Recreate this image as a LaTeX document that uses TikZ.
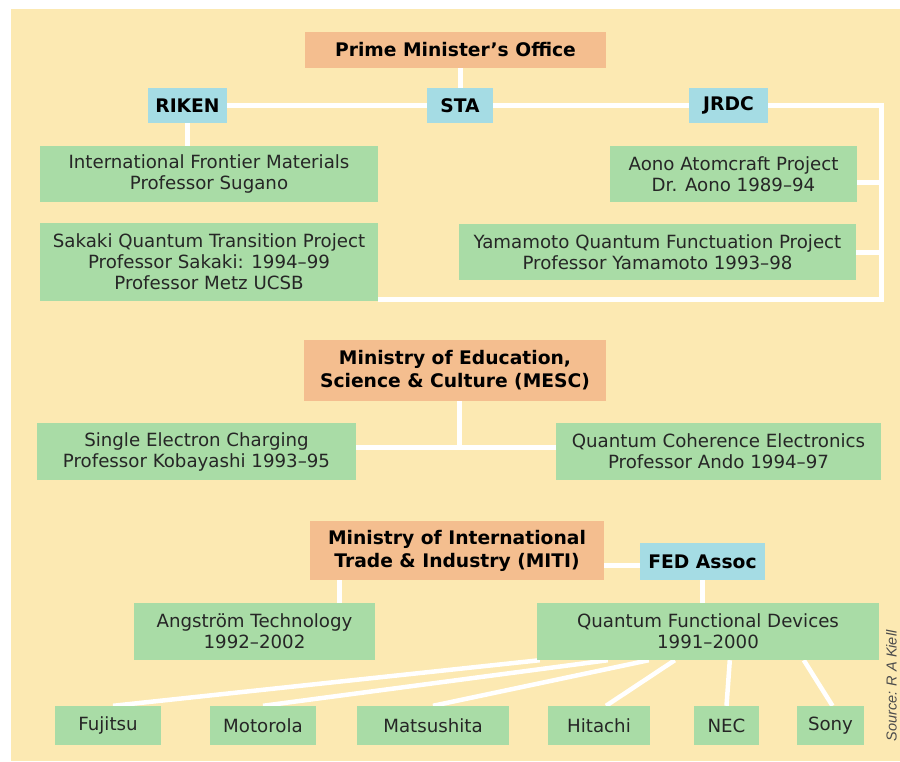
\documentclass[tikz,border=0pt]{standalone}
\usepackage{fontspec}
\setmainfont{DejaVu Sans}
\newfontfamily\srcfont{Liberation Sans}
\usetikzlibrary{backgrounds}
\definecolor{bgbeige}{HTML}{FCE9B2}
\definecolor{boxgreen}{HTML}{A9DCA6}
\definecolor{boxorange}{HTML}{F4BE8F}
\definecolor{boxblue}{HTML}{A5DCE4}
\begin{document}
\begin{tikzpicture}[x=1pt,y=-1pt,
  box/.style={inner sep=0pt, align=center, text=black!85, font=\fontsize{18.2}{21}\selectfont},
  greenbox/.style={box, fill=boxgreen},
  hdbox/.style={box, text=black, font=\bfseries\fontsize{18.7}{23}\selectfont},
  orangebox/.style={hdbox, fill=boxorange},
  bluebox/.style={hdbox, fill=boxblue},
  link/.style={draw=white, line width=5pt, line join=miter},
  fan/.style={draw=white, line width=4.5pt}
]
\useasboundingbox (0,0) rectangle (900,761);

% --- top: Prime Minister's Office ---
\node[orangebox, minimum width=301pt, minimum height=36pt] (pmo) at (455.5,50) {Prime Minister's Office};
\node[bluebox, minimum width=79pt, minimum height=35pt] (riken) at (187.5,105.5) {RIKEN};
\node[bluebox, minimum width=66pt, minimum height=35pt] (sta) at (460,105.5) {STA};
\node[bluebox, minimum width=79pt, minimum height=35pt] (jrdc) at (728.5,105.5) {JRDC};
\node[greenbox, minimum width=338pt, minimum height=56pt] (ifm) at (209,174) {International Frontier Materials\\Professor Sugano};
\node[greenbox, minimum width=338pt, minimum height=78pt] (sakaki) at (209,262) {Sakaki Quantum Transition Project\\Professor Sakaki: 1994--99\\Professor Metz UCSB};
\node[greenbox, minimum width=247pt, minimum height=56pt] (aono) at (733.5,174) {Aono Atomcraft Project\\Dr. Aono 1989--94};
\node[greenbox, minimum width=397pt, minimum height=56pt] (yama) at (657.5,252) {Yamamoto Quantum Functuation Project\\Professor Yamamoto 1993--98};

% --- middle: MESC ---
\node[orangebox, minimum width=302pt, minimum height=61pt] (mesc) at (455,370.5) {Ministry of Education,\\Science \& Culture (MESC)};
\node[greenbox, minimum width=319pt, minimum height=57pt] (sec) at (196.5,451.5) {Single Electron Charging\\Professor Kobayashi 1993--95};
\node[greenbox, minimum width=325pt, minimum height=57pt] (qce) at (718.5,451.5) {Quantum Coherence Electronics\\Professor Ando 1994--97};

% --- bottom: MITI ---
\node[orangebox, minimum width=294pt, minimum height=59pt] (miti) at (457,550.5) {Ministry of International\\Trade \& Industry (MITI)};
\node[bluebox, minimum width=125pt, minimum height=37pt] (fed) at (702.5,561.5) {FED Assoc};
\node[greenbox, minimum width=241pt, minimum height=57pt] (ang) at (254.5,631.5) {Angstr\"om Technology\\1992--2002};
\node[greenbox, minimum width=342pt, minimum height=57pt] (qfd) at (708,631.5) {Quantum Functional Devices\\1991--2000};
\node[greenbox, minimum width=106pt, minimum height=39pt] (fuj) at (108,725.5) {Fujitsu};
\node[greenbox, minimum width=106pt, minimum height=39pt] (mot) at (263,725.5) {Motorola};
\node[greenbox, minimum width=152pt, minimum height=39pt] (mat) at (433,725.5) {Matsushita};
\node[greenbox, minimum width=102pt, minimum height=39pt] (hit) at (599,725.5) {Hitachi};
\node[greenbox, minimum width=65pt, minimum height=39pt] (nec) at (726.5,725.5) {NEC};
\node[greenbox, minimum width=67pt, minimum height=39pt] (sony) at (830.5,725.5) {Sony};

\node[rotate=90, inner sep=0pt, text=black!70, font=\srcfont\itshape\fontsize{14.5}{14.5}\selectfont] (src) at (891.5,686) {Source: R A Kiell};

\coordinate (rt) at (881,105.5);
\coordinate (rb) at (881,299);
\coordinate (ao) at (881,182);
\coordinate (mj) at (459,447);
\coordinate (mf) at (622,565);
\coordinate (ma) at (339,600);

\begin{pgfonlayer}{background}
  \fill[white] (0,0) rectangle (900,761);
  \fill[bgbeige] (11,9) rectangle (900,761);
  % top
  \draw[link] (pmo.south -| sta) -- (sta.north);
  \draw[link] (riken.east) -- (sta.west);
  \draw[link] (sta.east) -- (jrdc.west);
  \draw[link] (riken.south) -- (ifm.north -| riken.south);
  \draw[link] (jrdc.east) -- (rt) -- (rb) -- (rb -| sakaki.east);
  \draw[link] (ao -| aono.east) -- (ao);
  \draw[link] (yama.east) -- (yama.east -| rt);
  % middle
  \draw[link] (mesc.south -| mj) -- (mj);
  \draw[link] (sec.east |- mj) -- (qce.west |- mj);
  % bottom
  \draw[link] (miti.east |- mf) -- (fed.west |- mf);
  \draw[link] (miti.south -| ma) -- (ang.north -| ma);
  \draw[link] (fed.south) -- (fed.south |- qfd.north);
  \draw[fan] ([xshift=3pt]qfd.south west) -- ([xshift=5pt]fuj.north);
  \draw[fan] ([xshift=71pt]qfd.south west) -- (mot.north);
  \draw[fan] ([xshift=112pt]qfd.south west) -- (mat.north);
  \draw[fan] ([xshift=138pt]qfd.south west) -- ([xshift=7pt]hit.north);
  \draw[fan] ([xshift=193pt]qfd.south west) -- (nec.north);
  \draw[fan] ([xshift=267pt]qfd.south west) -- ([xshift=2pt]sony.north);
\end{pgfonlayer}
\end{tikzpicture}
\end{document}
